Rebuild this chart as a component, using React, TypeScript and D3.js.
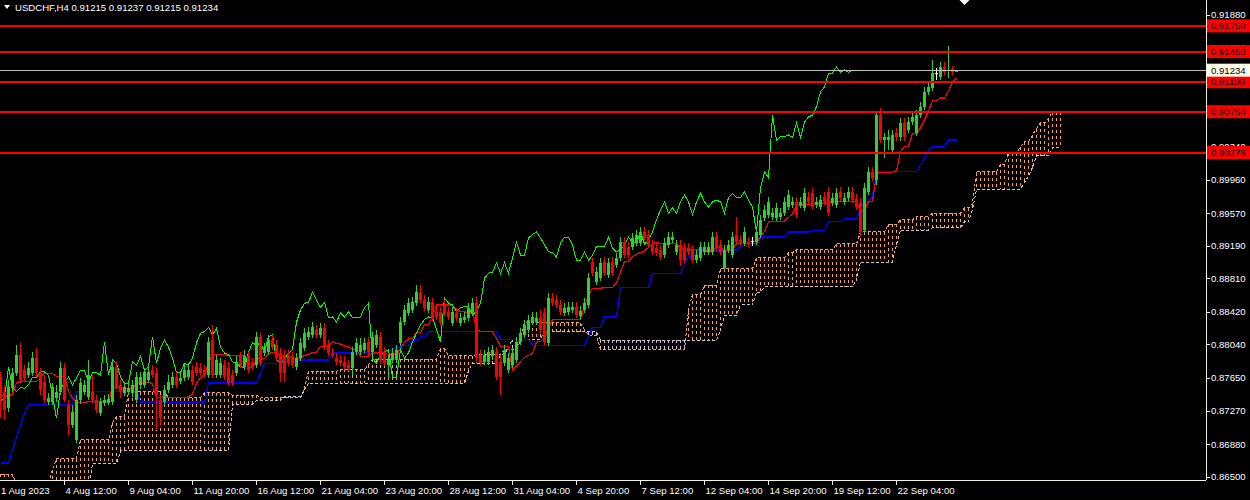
import React, { useLayoutEffect } from "react";
import * as d3 from "d3";

const symbolTitle = "USDCHF,H4";
const lastQuote = [0.91215, 0.91237, 0.91215, 0.91234];
const priceTicks = [0.9188, 0.915, 0.9111, 0.9073, 0.9034, 0.8996, 0.8957, 0.8919, 0.8881, 0.8842, 0.8804, 0.8765, 0.8727, 0.8688, 0.865];
const levelLines = [0.9175, 0.9145, 0.911, 0.9075, 0.90275];
const bidPrice = 0.91234;
const timeLabels = ["1 Aug 2023", "4 Aug 12:00", "9 Aug 04:00", "11 Aug 20:00", "16 Aug 12:00", "21 Aug 04:00", "23 Aug 20:00", "28 Aug 12:00", "31 Aug 04:00", "4 Sep 20:00", "7 Sep 12:00", "12 Sep 04:00", "14 Sep 20:00", "19 Sep 12:00", "22 Sep 04:00"];
const timeLabelBars = [0, 16, 32, 48, 64, 80, 96, 112, 128, 144, 160, 176, 192, 208, 224];

// [open, high, low, close]
const candles: [number, number, number, number][] = [
  [0.8766,0.8772,0.8718,0.8739],[0.8749,0.8757,0.8716,0.8728],[0.8730,0.8763,0.8725,0.8754],[0.8753,0.8777,0.8749,0.8771],
  [0.8771,0.8803,0.8767,0.8792],[0.8792,0.8806,0.8759,0.8763],[0.8774,0.8780,0.8760,0.8765],[0.8768,0.8784,0.8765,0.8777],
  [0.8771,0.8795,0.8767,0.8788],[0.8788,0.8800,0.8766,0.8771],[0.8771,0.8777,0.8745,0.8751],[0.8760,0.8768,0.8736,0.8739],
  [0.8737,0.8748,0.8734,0.8742],[0.8737,0.8759,0.8734,0.8754],[0.8742,0.8757,0.8737,0.8749],[0.8749,0.8784,0.8745,0.8777],
  [0.8777,0.8782,0.8737,0.8739],[0.8734,0.8739,0.8699,0.8710],[0.8710,0.8734,0.8707,0.8725],[0.8693,0.8745,0.8689,0.8739],
  [0.8739,0.8765,0.8735,0.8759],[0.8749,0.8763,0.8745,0.8757],[0.8743,0.8786,0.8739,0.8768],[0.8749,0.8768,0.8736,0.8739],
  [0.8739,0.8745,0.8724,0.8728],[0.8724,0.8742,0.8721,0.8737],[0.8736,0.8745,0.8732,0.8739],[0.8736,0.8746,0.8734,0.8740],
  [0.8737,0.8784,0.8734,0.8778],[0.8778,0.8784,0.8751,0.8754],[0.8757,0.8763,0.8742,0.8749],[0.8747,0.8760,0.8744,0.8754],
  [0.8749,0.8758,0.8745,0.8753],[0.8747,0.8763,0.8743,0.8757],[0.8739,0.8772,0.8736,0.8766],[0.8757,0.8772,0.8752,0.8766],
  [0.8757,0.8777,0.8753,0.8772],[0.8763,0.8780,0.8759,0.8772],[0.8774,0.8780,0.8765,0.8768],[0.8771,0.8777,0.8704,0.8745],
  [0.8739,0.8745,0.8710,0.8718],[0.8737,0.8757,0.8734,0.8751],[0.8751,0.8768,0.8747,0.8760],[0.8757,0.8772,0.8753,0.8766],
  [0.8766,0.8772,0.8753,0.8757],[0.8761,0.8772,0.8758,0.8765],[0.8765,0.8780,0.8761,0.8774],[0.8766,0.8782,0.8763,0.8774],
  [0.8774,0.8780,0.8757,0.8760],[0.8778,0.8784,0.8767,0.8771],[0.8777,0.8782,0.8767,0.8771],[0.8774,0.8780,0.8765,0.8768],
  [0.8768,0.8813,0.8765,0.8807],[0.8809,0.8827,0.8765,0.8768],[0.8768,0.8792,0.8765,0.8786],[0.8768,0.8788,0.8765,0.8782],
  [0.8780,0.8786,0.8763,0.8766],[0.8777,0.8784,0.8756,0.8759],[0.8768,0.8774,0.8756,0.8759],[0.8771,0.8790,0.8767,0.8784],
  [0.8790,0.8795,0.8777,0.8780],[0.8778,0.8798,0.8774,0.8790],[0.8790,0.8795,0.8771,0.8774],[0.8782,0.8788,0.8774,0.8778],
  [0.8780,0.8819,0.8777,0.8813],[0.8813,0.8817,0.8779,0.8782],[0.8794,0.8806,0.8791,0.8800],[0.8795,0.8815,0.8792,0.8809],
  [0.8809,0.8815,0.8798,0.8801],[0.8803,0.8809,0.8785,0.8788],[0.8794,0.8800,0.8760,0.8771],[0.8792,0.8798,0.8760,0.8771],
  [0.8792,0.8798,0.8779,0.8782],[0.8790,0.8795,0.8777,0.8780],[0.8778,0.8794,0.8774,0.8788],[0.8788,0.8812,0.8785,0.8806],
  [0.8800,0.8823,0.8796,0.8817],[0.8813,0.8824,0.8809,0.8819],[0.8815,0.8830,0.8812,0.8824],[0.8821,0.8827,0.8812,0.8815],
  [0.8815,0.8829,0.8812,0.8823],[0.8823,0.8829,0.8798,0.8801],[0.8803,0.8809,0.8791,0.8794],[0.8794,0.8800,0.8788,0.8792],
  [0.8788,0.8794,0.8780,0.8784],[0.8786,0.8792,0.8779,0.8782],[0.8784,0.8790,0.8774,0.8778],[0.8780,0.8786,0.8773,0.8777],
  [0.8777,0.8801,0.8768,0.8795],[0.8795,0.8812,0.8792,0.8806],[0.8795,0.8812,0.8792,0.8803],[0.8798,0.8812,0.8794,0.8806],
  [0.8807,0.8813,0.8792,0.8795],[0.8795,0.8819,0.8792,0.8813],[0.8803,0.8821,0.8800,0.8815],[0.8813,0.8819,0.8782,0.8786],
  [0.8795,0.8801,0.8779,0.8782],[0.8780,0.8792,0.8763,0.8786],[0.8786,0.8800,0.8782,0.8794],[0.8786,0.8803,0.8782,0.8798],
  [0.8806,0.8836,0.8802,0.8830],[0.8830,0.8850,0.8827,0.8844],[0.8841,0.8858,0.8837,0.8852],[0.8844,0.8859,0.8841,0.8853],
  [0.8852,0.8873,0.8849,0.8865],[0.8864,0.8873,0.8852,0.8856],[0.8856,0.8862,0.8843,0.8847],[0.8844,0.8859,0.8841,0.8853],
  [0.8853,0.8858,0.8831,0.8835],[0.8842,0.8848,0.8833,0.8836],[0.8842,0.8848,0.8827,0.8830],[0.8850,0.8856,0.8837,0.8841],
  [0.8842,0.8848,0.8833,0.8836],[0.8829,0.8848,0.8826,0.8842],[0.8841,0.8847,0.8831,0.8835],[0.8829,0.8841,0.8826,0.8835],
  [0.8833,0.8842,0.8829,0.8836],[0.8835,0.8852,0.8831,0.8847],[0.8842,0.8858,0.8838,0.8852],[0.8852,0.8859,0.8785,0.8788],
  [0.8792,0.8798,0.8779,0.8782],[0.8784,0.8798,0.8780,0.8792],[0.8784,0.8801,0.8780,0.8795],[0.8790,0.8803,0.8786,0.8798],
  [0.8795,0.8801,0.8763,0.8766],[0.8784,0.8792,0.8745,0.8766],[0.8782,0.8803,0.8779,0.8798],[0.8774,0.8794,0.8771,0.8788],
  [0.8780,0.8800,0.8777,0.8794],[0.8786,0.8813,0.8782,0.8807],[0.8807,0.8823,0.8803,0.8817],[0.8815,0.8833,0.8812,0.8827],
  [0.8821,0.8838,0.8817,0.8833],[0.8830,0.8842,0.8827,0.8836],[0.8830,0.8842,0.8827,0.8835],[0.8835,0.8844,0.8817,0.8821],
  [0.8841,0.8847,0.8803,0.8807],[0.8806,0.8864,0.8802,0.8858],[0.8858,0.8864,0.8849,0.8852],[0.8856,0.8862,0.8847,0.8850],
  [0.8850,0.8856,0.8838,0.8842],[0.8841,0.8852,0.8837,0.8847],[0.8842,0.8853,0.8838,0.8848],[0.8844,0.8853,0.8841,0.8848],
  [0.8848,0.8853,0.8835,0.8838],[0.8837,0.8849,0.8834,0.8843],[0.8844,0.8858,0.8841,0.8852],[0.8850,0.8887,0.8847,0.8881],
  [0.8900,0.8905,0.8884,0.8887],[0.8877,0.8894,0.8873,0.8888],[0.8881,0.8905,0.8878,0.8899],[0.8900,0.8906,0.8884,0.8887],
  [0.8885,0.8905,0.8881,0.8899],[0.8900,0.8906,0.8884,0.8887],[0.8897,0.8911,0.8893,0.8905],[0.8905,0.8929,0.8901,0.8923],
  [0.8923,0.8929,0.8905,0.8908],[0.8918,0.8923,0.8905,0.8908],[0.8918,0.8934,0.8914,0.8928],[0.8922,0.8937,0.8919,0.8932],
  [0.8922,0.8941,0.8919,0.8935],[0.8935,0.8941,0.8925,0.8928],[0.8932,0.8937,0.8916,0.8920],[0.8920,0.8926,0.8908,0.8912],
  [0.8916,0.8922,0.8907,0.8911],[0.8914,0.8920,0.8902,0.8906],[0.8908,0.8928,0.8905,0.8922],[0.8920,0.8935,0.8916,0.8929],
  [0.8926,0.8935,0.8922,0.8929],[0.8912,0.8926,0.8908,0.8920],[0.8920,0.8926,0.8895,0.8902],[0.8916,0.8922,0.8899,0.8902],
  [0.8916,0.8922,0.8908,0.8912],[0.8914,0.8920,0.8899,0.8902],[0.8902,0.8914,0.8899,0.8908],[0.8905,0.8923,0.8901,0.8918],
  [0.8912,0.8923,0.8908,0.8918],[0.8912,0.8923,0.8908,0.8918],[0.8912,0.8935,0.8908,0.8929],[0.8929,0.8935,0.8913,0.8916],
  [0.8920,0.8926,0.8908,0.8912],[0.8893,0.8920,0.8891,0.8914],[0.8914,0.8926,0.8911,0.8920],[0.8908,0.8935,0.8905,0.8929],
  [0.8932,0.8953,0.8920,0.8923],[0.8926,0.8932,0.8919,0.8922],[0.8922,0.8941,0.8919,0.8935],[0.8923,0.8929,0.8918,0.8921],
  [0.8925,0.8929,0.8919,0.8925],[0.8923,0.8941,0.8920,0.8935],[0.8932,0.8955,0.8928,0.8949],[0.8951,0.8966,0.8948,0.8961],
  [0.8955,0.8976,0.8951,0.8970],[0.8952,0.8963,0.8949,0.8957],[0.8951,0.8969,0.8948,0.8963],[0.8952,0.8963,0.8949,0.8957],
  [0.8957,0.8976,0.8954,0.8970],[0.8964,0.8984,0.8961,0.8978],[0.8966,0.8976,0.8963,0.8970],[0.8970,0.8976,0.8951,0.8955],
  [0.8966,0.8976,0.8963,0.8970],[0.8963,0.8986,0.8959,0.8980],[0.8976,0.8982,0.8966,0.8970],[0.8980,0.8986,0.8961,0.8964],
  [0.8966,0.8976,0.8963,0.8970],[0.8964,0.8978,0.8961,0.8972],[0.8976,0.8982,0.8966,0.8970],[0.8982,0.8987,0.8954,0.8957],
  [0.8969,0.8980,0.8965,0.8975],[0.8966,0.8986,0.8963,0.8980],[0.8982,0.8987,0.8971,0.8975],[0.8970,0.8980,0.8966,0.8975],
  [0.8975,0.8987,0.8971,0.8982],[0.8982,0.8987,0.8969,0.8972],[0.8973,0.8979,0.8961,0.8964],[0.8969,0.8975,0.8930,0.8935],
  [0.8937,0.8992,0.8934,0.8986],[0.8982,0.9011,0.8978,0.9005],[0.9005,0.9011,0.8994,0.8998],[0.8996,0.9075,0.8990,0.9071],
  [0.9071,0.9079,0.9039,0.9042],[0.9042,0.9050,0.9021,0.9046],[0.9042,0.9054,0.9031,0.9046],[0.9031,0.9054,0.9027,0.9048],
  [0.9050,0.9056,0.9041,0.9045],[0.9045,0.9068,0.9041,0.9062],[0.9062,0.9068,0.9041,0.9045],[0.9054,0.9069,0.9050,0.9063],
  [0.9063,0.9075,0.9060,0.9069],[0.9050,0.9077,0.9047,0.9071],[0.9071,0.9086,0.9068,0.9081],[0.9081,0.9104,0.9077,0.9098],
  [0.9098,0.9110,0.9095,0.9104],[0.9103,0.9135,0.9099,0.9120],[0.9120,0.9126,0.9112,0.9120],[0.9116,0.9133,0.9112,0.9127],
  [0.9127,0.9133,0.9118,0.9121],[0.9122,0.9151,0.9114,0.9124],[0.9125,0.9128,0.9118,0.9121],[0.91215,0.91237,0.91215,0.91234],
];

// Kijun-sen (blue), [first bar of run, value]
const kijunSteps: [number, number][] = [
  [0,0.8666],[3,0.8681],[4,0.8696],[5,0.8710],[6,0.8724],[7,0.8734],[19,0.8749],[35,0.8737],[52,0.8759],[65,0.8771],
  [66,0.8782],[74,0.8786],[83,0.8794],[96,0.8796],[98,0.8799],[100,0.8801],[101,0.8803],[103,0.8808],[105,0.8813],[107,0.8819],
  [125,0.8810],[133,0.8803],[147,0.8813],[148,0.8824],[151,0.8836],[155,0.8870],[163,0.8887],[171,0.8897],[172,0.8906],[174,0.8911],
  [175,0.8914],[185,0.8919],[190,0.8929],[197,0.8935],[203,0.8937],[207,0.8947],[211,0.8950],[215,0.8964],[216,0.8969],[217,0.8972],
  [218,0.8976],[219,0.9005],[230,0.9013],[231,0.9022],[232,0.9031],[233,0.9034],[237,0.9042],
];

// Senkou Span A (sandy brown), [first bar of run, value]
const senkouASteps: [number, number][] = [
  [0,0.8653],[4,0.8642],[13,0.8658],[14,0.8671],[20,0.8693],[28,0.8713],[29,0.8720],[32,0.8749],[42,0.8742],[51,0.8748],
  [58,0.8745],[65,0.8742],[76,0.8753],[77,0.8773],[85,0.8775],[92,0.8780],[93,0.8787],[110,0.8799],[112,0.8791],[120,0.8792],
  [126,0.8798],[130,0.8809],[131,0.8830],[137,0.8829],[146,0.8821],[147,0.8815],[150,0.8798],[172,0.8844],[173,0.8862],[176,0.8873],
  [180,0.8892],[189,0.8905],[197,0.8911],[199,0.8914],[209,0.8921],[215,0.8935],[222,0.8944],[225,0.8949],[229,0.8953],[233,0.8957],
  [241,0.8963],[243,0.8968],[244,0.9005],[250,0.9014],[252,0.9027],[255,0.9034],[256,0.9040],[258,0.9048],[259,0.9055],[260,0.9062],
  [262,0.9067],[263,0.9075],
];

// Senkou Span B (thistle), [first bar of run, value]
const senkouBSteps: [number, number][] = [
  [0,0.8635],[23,0.8665],[30,0.8680],[58,0.8734],[64,0.8739],[71,0.8743],[76,0.8751],[77,0.8759],[117,0.8773],[118,0.8782],
  [125,0.8792],[127,0.8801],[128,0.8810],[136,0.8819],[150,0.8809],[180,0.8821],[181,0.8838],[185,0.8850],[189,0.8865],[191,0.8871],
  [214,0.8879],[215,0.8900],[224,0.8920],[225,0.8937],[233,0.8940],[241,0.8947],[243,0.8961],[244,0.8985],[256,0.8993],[257,0.9000],
  [258,0.9010],[259,0.9024],[263,0.9033],
];

const tenkanPeriod = 9;
const chikouShift = 26;

function runsToBars(steps: [number, number][], length: number): number[] {
  const out: number[] = [];
  steps.forEach(([start, v], k) => {
    const end = k + 1 < steps.length ? steps[k + 1][0] : length;
    for (let i = start; i < end; i++) out[i] = v;
  });
  return out;
}

const W = 1250;
const H = 500;
const plotRight = 1206;
const plotBottom = 480;
const FONT = "'Liberation Sans', Arial, sans-serif";
const FS = 9.6;

export default function App() {
  useLayoutEffect(() => {
    document.body.style.margin = "0";
    document.body.style.background = "#000";
  }, []);

  const n = candles.length;
  const cloudLen = n + chikouShift;
  const x = d3.scaleLinear().domain([0, 1]).range([0.5, 4.5]);
  const y = d3.scaleLinear().domain([0.865, 0.9188]).range([476.7, 14.7]);

  const kijun = runsToBars(kijunSteps, n);
  const spanA = runsToBars(senkouASteps, cloudLen);
  const spanB = runsToBars(senkouBSteps, cloudLen);

  const tenkan = candles.map((_, i) => {
    const win = candles.slice(Math.max(0, i - tenkanPeriod + 1), i + 1);
    const hi = d3.max(win, (c) => c[1]) as number;
    const lo = d3.min(win, (c) => c[2]) as number;
    return (hi + lo) / 2;
  });
  const chikou = candles.slice(chikouShift).map((c) => c[3]);

  const line = d3
    .line<number>()
    .x((_, i) => x(i))
    .y((v) => y(v));

  const cloudCols = spanA.map((a, i) => ({ i, a, b: spanB[i] }));

  return (
    <svg width={W} height={H} style={{ position: "absolute", left: 0, top: 0, display: "block", background: "#000" }}>
      <defs>
        <clipPath id="plot">
          <rect x={0} y={0} width={plotRight} height={plotBottom} />
        </clipPath>
      </defs>
      <rect x={0} y={0} width={W} height={H} fill="#000" />

      <g clipPath="url(#plot)" shapeRendering="crispEdges">
        {/* cloud columns */}
        {cloudCols.map(({ i, a, b }) => (
          <line
            key={"k" + i}
            x1={x(i)}
            x2={x(i)}
            y1={y(Math.max(a, b))}
            y2={y(Math.min(a, b))}
            stroke={a >= b ? "#F4A460" : "#D8BFD8"}
            strokeWidth={1}
            strokeDasharray="3,3"
          />
        ))}
        <path d={line(spanA) || ""} fill="none" stroke="#F4A460" strokeWidth={1} strokeDasharray="3,2" />
        <path d={line(spanB) || ""} fill="none" stroke="#D8BFD8" strokeWidth={1} strokeDasharray="3,2" />

        {/* Kijun, Tenkan, Chikou */}
        <path d={line(kijun) || ""} fill="none" stroke="#0000FF" strokeWidth={1.3} />
        <path d={line(tenkan) || ""} fill="none" stroke="#FF0000" strokeWidth={1.2} />
        <path d={line(chikou) || ""} fill="none" stroke="#00FF00" strokeWidth={1} />

        {/* candles */}
        {candles.map(([o, h, l, c], i) => {
          const col = c > o ? "#32CD32" : c < o ? "#FF0000" : "#FFFFFF";
          const top = y(Math.max(o, c));
          const bot = y(Math.min(o, c));
          return (
            <g key={"c" + i}>
              <line x1={x(i)} x2={x(i)} y1={y(h)} y2={y(l)} stroke={col} strokeWidth={1} />
              <rect x={x(i) - 1.5} y={top} width={3} height={Math.max(1, bot - top)} fill={col} />
            </g>
          );
        })}

        {/* bid line */}
        <line x1={0} x2={plotRight} y1={Math.round(y(bidPrice)) + 0.5} y2={Math.round(y(bidPrice)) + 0.5} stroke="#C0C0C0" strokeWidth={1} />
        {/* horizontal levels */}
        {levelLines.map((p) => (
          <line key={"l" + p} x1={0} x2={plotRight} y1={y(p)} y2={y(p)} stroke="#FF0000" strokeWidth={2} />
        ))}
      </g>

      {/* axes */}
      <line x1={plotRight + 0.5} x2={plotRight + 0.5} y1={0} y2={plotBottom} stroke="#F0F0E0" strokeWidth={1} />
      <line x1={0} x2={plotRight} y1={plotBottom + 0.5} y2={plotBottom + 0.5} stroke="#F0F0E0" strokeWidth={1} />

      {priceTicks.map((p) => (
        <g key={"t" + p}>
          <line x1={plotRight} x2={plotRight + 4} y1={Math.round(y(p)) + 0.5} y2={Math.round(y(p)) + 0.5} stroke="#F0F0E0" />
          <text x={plotRight + 5} y={y(p) + 3.5} fill="#FFFFFF" fontSize={FS} fontFamily={FONT}>
            {p.toFixed(5)}
          </text>
        </g>
      ))}

      {levelLines.map((p) => (
        <g key={"b" + p}>
          <rect x={plotRight + 1} y={y(p) - 6.5} width={43} height={13} fill="#FF0000" />
          <text x={plotRight + 5} y={y(p) + 3.5} fill="#000000" fontSize={FS} fontFamily={FONT}>
            {p.toFixed(5)}
          </text>
        </g>
      ))}
      <rect x={plotRight + 1} y={y(bidPrice) - 6.5} width={43} height={13} fill="#FFFDE8" />
      <text x={plotRight + 5} y={y(bidPrice) + 3.5} fill="#000000" fontSize={FS} fontFamily={FONT}>
        {bidPrice.toFixed(5)}
      </text>

      {timeLabelBars.map((b, k) => (
        <g key={"d" + b}>
          {k > 0 && <line x1={x(b)} x2={x(b)} y1={plotBottom} y2={plotBottom + 5} stroke="#F0F0E0" />}
          <text x={k > 0 ? x(b) + 1 : 1} y={494} fill="#FFFFFF" fontSize={FS} fontFamily={FONT}>
            {timeLabels[k]}
          </text>
        </g>
      ))}

      {/* title */}
      <path d="M4,5 L10,5 L7,9 Z" fill="#FFFFFF" />
      <text x={15} y={11} fill="#FFFFFF" fontSize={FS} fontFamily={FONT}>
        {symbolTitle + "  " + lastQuote.map((v) => v.toFixed(5)).join(" ")}
      </text>
      {/* chart shift marker */}
      <path d={`M${x(n + 1) - 5},0 L${x(n + 1) + 5},0 L${x(n + 1)},5 Z`} fill="#FFFFFF" />
    </svg>
  );
}
